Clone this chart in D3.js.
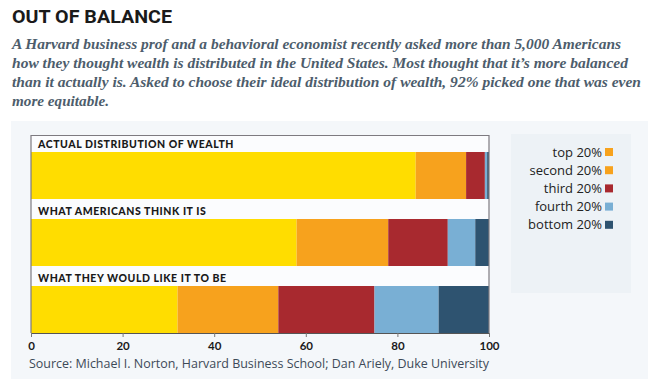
<!DOCTYPE html>
<html><head><meta charset="utf-8">
<script src="https://cdn.jsdelivr.net/npm/d3@7"></script>
<style>
html,body{margin:0;padding:0;background:#fff;}
svg{display:block;}
</style></head>
<body><svg id="c" width="648" height="379"></svg>
<script>
const categories = ["ACTUAL DISTRIBUTION OF WEALTH", "WHAT AMERICANS THINK IT IS", "WHAT THEY WOULD LIKE IT TO BE"];
const seriesNames = ["top 20%", "second 20%", "third 20%", "fourth 20%", "bottom 20%"];
const top20 = [84, 58, 32];
const second20 = [11, 20, 22];
const third20 = [4.1, 13, 21];
const fourth20 = [0.5, 6, 14];
const bottom20 = [0.4, 3, 11];
const tickValues = [0, 20, 40, 60, 80, 100];
const colors = ["#FFDD00", "#F7A21D", "#A8292F", "#79AFD4", "#2E5370"];
const legendColors = ["#F7A21D", "#F7A21D", "#A8292F", "#79AFD4", "#2E5370"];
const subtitleLines = [
  "A Harvard business prof and a behavioral economist recently asked more than 5,000 Americans",
  "how they thought wealth is distributed in the United States. Most thought that it\u2019s more balanced",
  "than it actually is. Asked to choose their ideal distribution of wealth, 92% picked one that was even",
  "more equitable."
];
const source = "Source: Michael I. Norton, Harvard Business School; Dan Ariely, Duke University";

const rows = categories.map((c, i) => ({
  cat: c, "top 20%": top20[i], "second 20%": second20[i], "third 20%": third20[i],
  "fourth 20%": fourth20[i], "bottom 20%": bottom20[i]
}));

const svg = d3.select("#c");
svg.append("rect").attr("x", 0).attr("y", 0).attr("width", 648).attr("height", 379).attr("fill", "#fff");

// title
svg.append("text").attr("x", 12).attr("y", 23).text("OUT OF BALANCE")
  .attr("font-family", "Roboto, 'DejaVu Sans', sans-serif").attr("font-weight", 700)
  .attr("font-size", 19).attr("fill", "#1a1a1a").attr("textLength", 160).attr("lengthAdjust", "spacingAndGlyphs");

// subtitle
const subWidths = [609, 616, 629, 97];
subtitleLines.forEach((l, i) => {
  svg.append("text").attr("x", 12).attr("y", 49 + i * 19).text(l)
    .attr("font-family", "'Liberation Serif', 'DejaVu Serif', serif").attr("font-style", "italic")
    .attr("font-weight", 700).attr("font-size", 14.5).attr("fill", "#4d5d6c")
    .attr("textLength", subWidths[i]).attr("lengthAdjust", "spacingAndGlyphs");
});

// panel
svg.append("rect").attr("x", 11).attr("y", 121).attr("width", 637).attr("height", 258).attr("fill", "#f4f7fa");
svg.append("rect").attr("x", 511).attr("y", 134).attr("width", 120).attr("height", 159).attr("fill", "#edf2f6");

const x = d3.scaleLinear().domain([0, 100]).range([31, 489]);
const y = d3.scaleBand().domain(categories).range([152, 333]).paddingInner(20 / 67).paddingOuter(0);

// plot area
svg.append("rect").attr("x", 31).attr("y", 135).attr("width", 458).attr("height", 198).attr("fill", "#fbfcfe");

const stack = d3.stack().keys(seriesNames)(rows);
const color = d3.scaleOrdinal().domain(seriesNames).range(colors);

svg.append("g").selectAll("g").data(stack).join("g").attr("fill", d => color(d.key))
  .selectAll("rect").data(d => d).join("rect")
  .attr("x", d => x(d[0])).attr("width", d => x(d[1]) - x(d[0]))
  .attr("y", d => y(d.data.cat)).attr("height", y.bandwidth());

// frame
svg.append("path").attr("d", `M${x(0)},333 V135.5 H${x(100)} V333`).attr("fill", "none")
  .attr("stroke", "#7d7a80").attr("stroke-width", 1.2);

// category labels
svg.append("g").selectAll("text").data(categories).join("text")
  .attr("x", 38).attr("y", d => y(d) - 4).text(d => d)
  .attr("font-family", "Lato, 'Open Sans', sans-serif").attr("font-weight", 900)
  .attr("font-size", 10.5).attr("letter-spacing", 0.55).attr("fill", "#1a1a1a");

// axis
const axis = svg.append("g").attr("transform", "translate(0,333)")
  .call(d3.axisBottom(x).tickValues(tickValues).tickSize(4).tickSizeOuter(0));
axis.select(".domain").attr("stroke", "#555").attr("stroke-width", 1.2);
axis.selectAll(".tick line").attr("stroke", "#777");
axis.selectAll(".tick text").attr("font-family", "Lato, sans-serif").attr("font-weight", 700)
  .attr("font-size", 11.5).attr("fill", "#1a1a1a").attr("dy", "0.85em");

// source
svg.append("text").attr("x", 29).attr("y", 368).text(source)
  .attr("font-family", "'Open Sans', sans-serif").attr("font-size", 13).attr("fill", "#3d4a58")
  .attr("textLength", 460).attr("lengthAdjust", "spacingAndGlyphs");

// legend
const lg = svg.append("g");
seriesNames.forEach((s, i) => {
  const cy = 152 + i * 18.2;
  lg.append("text").attr("x", 602).attr("y", cy).attr("dy", "0.35em").attr("text-anchor", "end")
    .text(s).attr("font-family", "'Open Sans', sans-serif").attr("font-size", 13).attr("fill", "#222");
  lg.append("rect").attr("x", 605).attr("y", cy - 4).attr("width", 8).attr("height", 8).attr("fill", legendColors[i]);
});
</script></body></html>
